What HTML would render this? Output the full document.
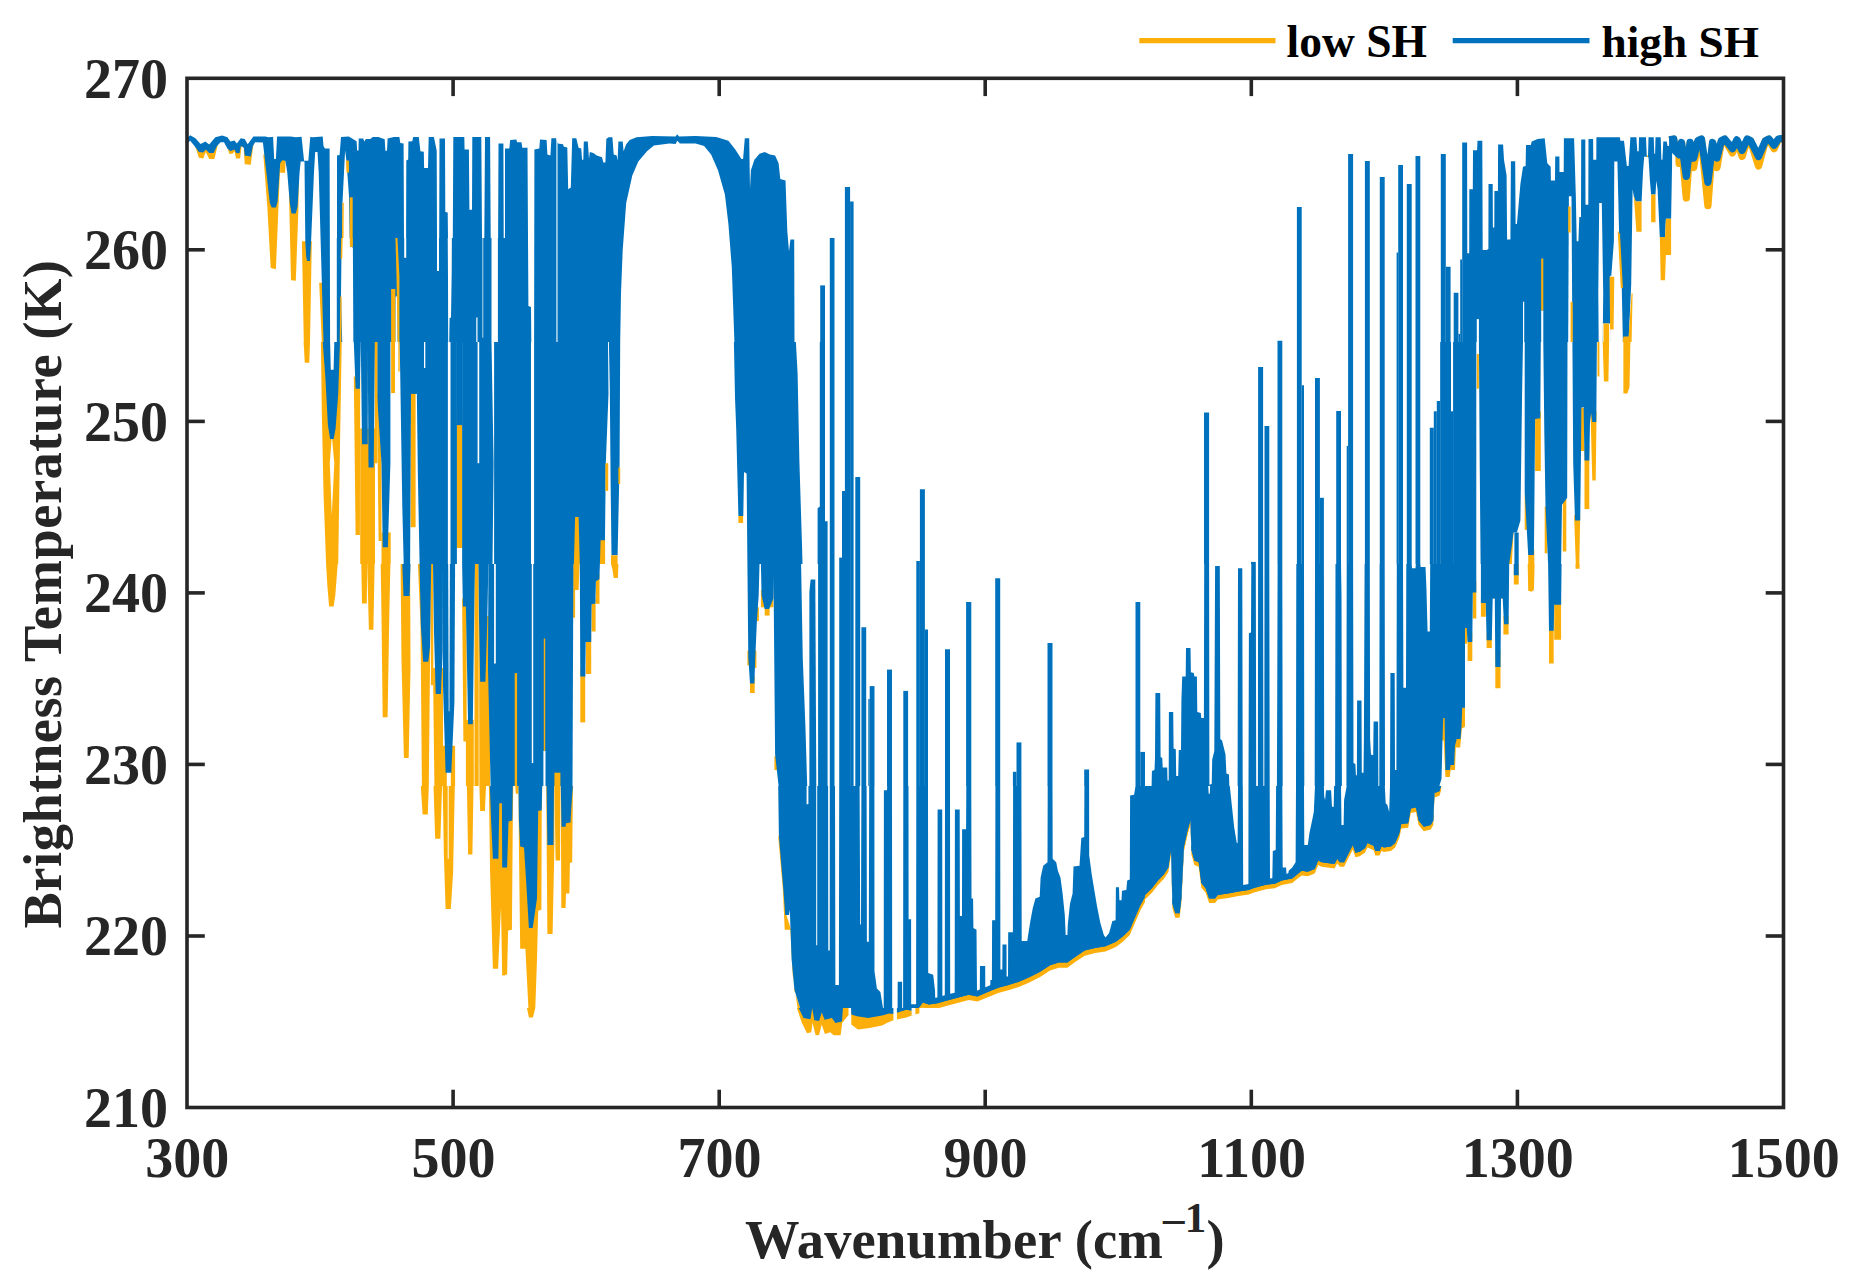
<!DOCTYPE html>
<html lang="en"><head><meta charset="utf-8"><title>Brightness Temperature vs Wavenumber</title>
<style>html,body{margin:0;padding:0;background:#fff}body{width:1850px;height:1282px;overflow:hidden}svg{display:block}text{font-family:"Liberation Serif",serif;font-weight:bold}</style></head><body>
<svg width="1850" height="1282" viewBox="0 0 1850 1282">
<rect width="1850" height="1282" fill="#fff"/>
<defs>
<clipPath id="c0"><rect x="185" y="120" width="150" height="222"/></clipPath>
<clipPath id="c1"><rect x="335" y="120" width="170" height="118"/></clipPath>
<clipPath id="c2"><rect x="185" y="342" width="320" height="222"/></clipPath>
<clipPath id="c3"><rect x="185" y="564" width="320" height="222"/></clipPath>
<clipPath id="c4"><rect x="185" y="786" width="320" height="222"/></clipPath>
<clipPath id="c5"><rect x="505" y="120" width="320" height="222"/></clipPath>
<clipPath id="c6"><rect x="505" y="342" width="320" height="222"/></clipPath>
<clipPath id="c7"><rect x="505" y="564" width="320" height="222"/></clipPath>
<clipPath id="c8"><rect x="505" y="786" width="320" height="222"/></clipPath>
<clipPath id="c9"><rect x="505" y="1008" width="40" height="22"/></clipPath>
<clipPath id="c10"><rect x="335" y="238" width="170" height="104"/></clipPath>
<clipPath id="c11"><rect x="825" y="786" width="320" height="222"/></clipPath>
<clipPath id="c12"><rect x="825" y="1008" width="320" height="100"/></clipPath>
<clipPath id="c13"><rect x="665" y="1008" width="160" height="100"/></clipPath>
<clipPath id="c14"><rect x="825" y="120" width="320" height="666"/></clipPath>
<clipPath id="c15"><rect x="825" y="342" width="320" height="444"/></clipPath>
<clipPath id="c16"><rect x="825" y="564" width="320" height="222"/></clipPath>
<clipPath id="c17"><rect x="1145" y="120" width="320" height="444"/></clipPath>
<clipPath id="c18"><rect x="1145" y="342" width="320" height="222"/></clipPath>
<clipPath id="c19"><rect x="1145" y="564" width="320" height="222"/></clipPath>
<clipPath id="c20"><rect x="1145" y="786" width="320" height="222"/></clipPath>
<clipPath id="c21"><rect x="1465" y="120" width="320" height="222"/></clipPath>
<clipPath id="c22"><rect x="1465" y="342" width="320" height="222"/></clipPath>
<clipPath id="c23"><rect x="1465" y="564" width="320" height="222"/></clipPath>
<clipPath id="plot"><rect x="187.0" y="78.3" width="1596.5" height="1029.2"/></clipPath>
</defs>
<g clip-path="url(#plot)">
<g clip-path="url(#c0)">
<polygon points="194.5,144.2 198.9,157.7 203.2,158.4 205.8,152 209.2,159 214.4,159 217.9,144.2" fill="#FCAF0A"/>
<polygon points="226.6,144.2 229.2,153.8 232.6,153.8 234.4,151.2 236.1,158.4 240.1,158.4 241.8,144.2" fill="#FCAF0A"/>
<polygon points="243.5,144.2 244.7,164.2 250.8,164.7 253.4,144.2" fill="#FCAF0A"/>
<polygon points="263.3,154.6 267.3,206.6 270.7,268.1 275.9,269.3 278.5,206.6 279.9,171.9 279.9,154.6" fill="#FCAF0A"/>
<polygon points="279.9,154.6 280.2,172.8 285.1,172.8 285.8,154.6" fill="#FCAF0A"/>
<polygon points="288.5,171.9 291,280.2 295.8,280.7 298.4,210 298.9,171.9" fill="#FCAF0A"/>
<polygon points="301.9,241.2 311.8,241.2 310,342 303.8,342" fill="#FCAF0A"/>
<polygon points="319.2,282.8 322.7,282.8 325.6,342 321.8,342" fill="#FCAF0A"/>
<polygon points="186.7,138.2 190.2,135.2 195.4,138.2 200.6,143.9 205.4,141.6 209.2,144.6 215.3,137.3 222.2,135.6 227.4,137.3 230.4,141.6 234.4,140.4 236.9,143.4 240.8,138.2 244.7,139 247.7,144.2 253.4,136.5 265.5,136.5 268.1,137.3 278.5,136.5 290.6,136.5 295.8,137.3 304.5,136.5 313.1,137.3 322.7,136.5 323.5,146 324.9,148.6 329.6,148.6 330.1,342 323.5,342 318.7,171.9 317.5,152 315.2,152 314,171.9 311.1,241.2 310,261.1 307.1,261.1 306.2,256.8 305.3,241.2 304.5,161.6 300.7,161.6 299.6,171.9 297.6,206.6 295.8,213.5 291.5,213.5 289.8,203.1 287.2,171.9 285.4,160.7 282.3,160.2 280.2,163.3 277.6,201.4 275.9,207.4 271.6,207.4 269.8,203.1 267.3,180.6 262.9,142.5 255.1,142.2 252.9,146 250.8,156.4 244.7,155.5 243.9,147.7 240.8,146 239.5,153.2 236.1,152.9 234.4,149.4 230.4,151.2 227.4,148.6 224,142.2 220.5,142.2 217,146 213.6,152.9 209.2,152.9 205.8,149.4 203.2,152.6 198.9,152 194.5,146 190.2,140.8 186.7,143.4" fill="#0072BD"/>
<polygon points="273,135.6 277.1,135.6 275.9,159 274.2,159" fill="#fff"/>
<polygon points="301.4,135.6 310.4,135.6 308.3,160.7 304.1,160.7" fill="#fff"/>
</g>
<g clip-path="url(#c1)">
<polygon points="341.4,155.4 353.4,155.4 353.4,238 341.4,238" fill="#FCAF0A"/>
<polygon points="337,238 337,155.4 339.6,155 341,137 348.8,136.6 356.6,141.2 357.1,150.4 358.5,150.4 358.7,138.4 363.1,138.4 364.5,141.6 365.8,138.9 370.4,138.9 372.7,137 378.3,137 384.7,139.3 385.4,150.8 387,150.8 387.6,138.4 393.9,137 399.4,137 400.3,143 403.6,143.5 404,238 406.1,238 406.3,160.5 408.2,159.6 408.4,141.4 412.3,141.2 413.2,137 418.8,137 420.4,151.3 423.8,151.8 424.1,167.9 428,167.9 428.7,137 433.9,137 436.7,150.4 437,238 439.2,238 439.5,138.4 445,138.4 445.3,212 447.7,212.5 448,238 452.8,238 453.3,137 464.3,137 464.6,149.5 468.9,149.5 469.4,209.7 472,209.7 472.3,137 481.3,137 482,238 484.3,238 485,137 490.1,137 490.7,238 498.1,238 498.5,143.5 503.4,143.5 503.7,238 503.7,238 337,238" fill="#0072BD"/>
<polygon points="345.1,150.4 342.5,202.8 342.2,238 349.7,238 349,196.4 346.5,161.4" fill="#fff"/>
<polygon points="346,160.5 348.8,160.5 349,172.5 346.5,172.5" fill="#FCAF0A"/>
<polygon points="349.7,197.3 352.7,197.3 352.7,238 349.7,238" fill="#FCAF0A"/>
<polygon points="342.4,202.8 343.8,202.8 343.5,238 342,238" fill="#FCAF0A"/>
</g>
<g clip-path="url(#c2)">
<polygon points="303.6,342 310,342 309.3,362.8 304.8,362.8" fill="#FCAF0A"/>
<polygon points="320.9,342 341.7,342 340,445.9 338.2,564 326.1,564 323.5,492.6 321.8,411.3" fill="#FCAF0A"/>
<polygon points="331.8,435.5 329.8,463.2 331.8,515.2 334.3,463.2" fill="#fff"/>
<polygon points="353.8,376.6 360.2,376.6 359.9,535.1 355.6,535.1" fill="#FCAF0A"/>
<polygon points="360.2,428.6 375,428.6 375,564 360.2,564" fill="#FCAF0A"/>
<polygon points="376.9,393.9 381.5,393.9 381.5,541.1 378.6,541.1" fill="#FCAF0A"/>
<polygon points="381.5,532.5 390.7,532.5 390.7,564 381.5,564" fill="#FCAF0A"/>
<polygon points="391.1,342 395,342 395,393.1 391.1,393.1" fill="#FCAF0A"/>
<polygon points="398.3,342 399.7,342 399.7,371.4 398.3,371.4" fill="#FCAF0A"/>
<polygon points="410.6,385.3 415.6,385.3 415.6,527.3 410.6,527.3" fill="#FCAF0A"/>
<polygon points="428.8,497.8 431.9,497.8 431.9,564 428.8,564" fill="#FCAF0A"/>
<polygon points="456.5,411.3 462.4,411.3 462.4,548.1 456.5,548.1" fill="#FCAF0A"/>
<polygon points="322.7,342 340,342 338.2,393.9 335.6,428.6 333.6,439 330.1,439 327.9,425.1 325.3,376.6" fill="#0072BD"/>
<polygon points="330.1,342 334.3,342 333.6,369.7 330.8,369.7" fill="#fff"/>
<polygon points="353.8,342 360.8,342 359.9,388.8 355.6,388.8" fill="#0072BD"/>
<polygon points="360.8,342 368,342 367.7,444.2 362,444.2" fill="#0072BD"/>
<polygon points="367.7,342 375,342 373.7,467.5 368.5,467.5" fill="#0072BD"/>
<polygon points="377.2,342 390.4,342 390.4,463.2 387.9,547.2 382.7,547.2 381.5,463.2 377.2,397.4" fill="#0072BD"/>
<polygon points="399.7,342 411,342 411,393.9 410.1,564 403.7,564 402.3,506.5" fill="#0072BD"/>
<polygon points="410.1,342 417,342 417,393.9 410.1,393.9" fill="#0072BD"/>
<polygon points="374.8,342 377.4,342 377.4,463.2 374.8,463.2" fill="#FCAF0A"/>
<polygon points="416.2,342 447.9,342 447.9,564 419.6,564 417.9,477.1" fill="#0072BD"/>
<polygon points="424,342 425.3,342 425.3,368 424,368" fill="#fff"/>
<polygon points="450.5,342 456.9,342 456.9,564 450.5,564" fill="#0072BD"/>
<polygon points="456.5,342 462.4,342 462.4,425.1 456.5,425.1" fill="#0072BD"/>
<polygon points="462.1,342 491.5,342 493.6,463.2 492.5,564 462.1,564" fill="#0072BD"/>
<polygon points="477.6,342 479.2,342 479.2,463.2 477.6,463.2" fill="#fff"/>
<polygon points="494.1,342 505,342 505,564 494.1,564" fill="#0072BD"/>
</g>
<g clip-path="url(#c3)">
<polygon points="326.1,564 337.7,564 335.3,595.2 333.6,606.4 329.1,606.4 327.3,584.8" fill="#FCAF0A"/>
<polygon points="361.3,564 367.2,564 366.8,603.5 362,603.5" fill="#FCAF0A"/>
<polygon points="367.2,564 374.6,564 373.4,629.8 368.9,629.8" fill="#FCAF0A"/>
<polygon points="380.7,564 390.4,564 389.3,615.9 387.6,717.2 382.7,717.2 381.5,615.9" fill="#FCAF0A"/>
<polygon points="400.6,564 410.1,564 410.5,667.9 408.7,757.9 403.9,757.9 401.5,661" fill="#FCAF0A"/>
<polygon points="417.9,564 430.5,564 430.5,615.9 428.8,786 421.9,786 420.5,624.6" fill="#FCAF0A"/>
<polygon points="433,667.9 443,667.9 443,745.8 446.8,745.8 446.8,786 434.4,786" fill="#FCAF0A"/>
<polygon points="450.8,745.8 455.1,745.8 455.1,786 450.8,786" fill="#FCAF0A"/>
<polygon points="462.1,598.6 466.6,598.6 466.6,741.5 463.4,741.5" fill="#FCAF0A"/>
<polygon points="465.9,719.8 473.8,719.8 473.8,786 465.9,786" fill="#FCAF0A"/>
<polygon points="479,615.9 489.8,615.9 490.1,786 479.4,786" fill="#FCAF0A"/>
<polygon points="474.5,564 478.7,564 478.7,786 474.5,786" fill="#FCAF0A"/>
<polygon points="430.9,564 433.3,564 433.3,685.2 430.9,685.2" fill="#FCAF0A"/>
<polygon points="402.3,564 410.5,564 409.6,596 403.5,596" fill="#0072BD"/>
<polygon points="419.6,564 431.2,564 430,647.1 428.3,661.8 423.1,661.8 420.8,624.6" fill="#0072BD"/>
<polygon points="433,564 443,564 442.7,650.6 440.9,693.9 435.7,693.9 434,633.3" fill="#0072BD"/>
<polygon points="442.7,564 455.1,564 454.4,702.5 451.3,772.7 445.6,772.7 443,685.2" fill="#0072BD"/>
<polygon points="448.2,564 449.9,564 449.4,711.2 448.7,711.2" fill="#fff"/>
<polygon points="462.1,564 475,564 474.5,590 472.8,724.2 468.1,724.2 465.9,606.4 462.9,606.4" fill="#0072BD"/>
<polygon points="478.5,564 488.4,564 487.2,624.6 485.4,681.7 480.2,681.7 479,615.9" fill="#0072BD"/>
<polygon points="488.4,564 505,564 505,786 490.6,786 488,667.9" fill="#0072BD"/>
<polygon points="494.1,564 495.8,564 495.8,663.6 494.1,663.6" fill="#fff"/>
</g>
<g clip-path="url(#c4)">
<polygon points="420.8,786 428.8,786 427.8,814.6 422.6,814.6" fill="#FCAF0A"/>
<polygon points="433.5,786 442.1,786 440.4,838.8 435.2,838.8" fill="#FCAF0A"/>
<polygon points="442.7,786 454.8,786 453.1,872.6 450.8,908.9 445.6,908.9 443.9,855.3" fill="#FCAF0A"/>
<polygon points="447.7,786 448.7,786 448.7,858.7 447.7,858.7" fill="#fff"/>
<polygon points="466.9,786 473.5,786 472.4,854.4 468.1,854.4" fill="#FCAF0A"/>
<polygon points="479.4,786 486,786 484.9,811.1 480.2,811.1" fill="#FCAF0A"/>
<polygon points="488.9,786 505,786 505,975.6 502.2,975.6 501,907.2 498.1,968.7 492.9,968.7 490.1,872.6" fill="#FCAF0A"/>
<polygon points="489.8,786 505,786 505,867.4 502.2,867.4 501.9,803.3 499.3,803.3 498.4,858.7 492.9,858.7 491.1,820.6" fill="#0072BD"/>
</g>
<g clip-path="url(#c5)">
<polygon points="505,148.6 509.3,148.6 510.2,139.9 516.3,139.4 517.1,142.2 521.5,142.2 522.3,147.7 527.5,147.7 528.4,306.1 531,307 531.3,342 534.1,342 534.4,149.4 539.3,148.6 540,139.4 546.6,139.9 547.4,154.6 550.4,155.5 551.4,138.2 556.1,138.2 557.8,143.4 563,144.2 563.9,146.8 567.3,147.4 568.2,189.3 570.8,187.5 572.2,138.2 576.3,138.2 578.6,147.7 581.2,148.6 582.1,159.8 583.3,159.8 583.8,141.6 587.8,141.6 589,159 589.8,152 593.3,152.9 596.8,155.5 602,157.2 603.4,162.4 605.4,162.4 606.3,139 608.5,137.3 612.4,137.3 613.7,154.6 616.7,155.5 617.6,160.7 618.4,141.6 622.7,141.6 623.6,151.2 626.2,144.2 629.7,139.9 636.6,137.3 652.2,135.9 675.6,136.5 677.3,134.2 679,136.5 695.5,135.9 716.3,137 728.4,140.8 735.3,149.4 741.4,159 743.1,159 744.8,138.2 749.2,138.2 750,188.4 750.9,170.2 754.4,159.8 759.5,153.8 764.7,152 769.9,154.6 775.1,155.5 778.6,163.3 780.3,178.9 785.5,180.6 787.3,230.8 789,251.6 790.4,239.5 794.2,239.5 794.5,342 794.5,342 505,342" fill="#0072BD"/>
<polygon points="620.2,342 621,293.2 622.7,249.9 626.2,203.1 632.3,175.4 638.3,161.6 647,151.2 653.9,145.6 669.5,143.4 675.6,143.9 677.3,140.8 679.9,143.4 695.5,143.4 704.1,146 711.1,154.6 718,170.2 724.9,194.5 728.4,223.9 731.8,267.2 734.4,342" fill="#fff"/>
<polygon points="820.2,285.4 825,285.4 825,342 820.2,342" fill="#0072BD"/>
<polygon points="556.4,139 557.5,139 557.5,342 556.4,342" fill="#fff"/>
</g>
<g clip-path="url(#c6)">
<polygon points="505,342 531,342 531,564 505,564" fill="#0072BD"/>
<polygon points="534.1,342 608,342 608.5,393.9 605.8,463.2 604.7,564 534.1,564" fill="#0072BD"/>
<polygon points="609.8,388.8 608.9,342 620.2,342 619.6,463.2 617.6,555.3 611.5,555.3 610.6,480.5" fill="#0072BD"/>
<polygon points="611,555.3 617.6,555.3 617.6,564 611,564" fill="#FCAF0A"/>
<polygon points="605.4,463.2 608.2,463.2 608.2,490.9 605.4,490.9" fill="#FCAF0A"/>
<polygon points="575.1,516.9 578.6,516.9 579.8,564 573.9,564" fill="#FCAF0A"/>
<polygon points="600.6,540.3 605.1,540.3 605.1,564 599.9,564" fill="#FCAF0A"/>
<polygon points="618.4,467.5 620.2,467.5 620.2,484 618.4,484" fill="#FCAF0A"/>
<polygon points="733.9,342 795.9,342 797.6,373.2 799.4,461.5 802,544.6 802.5,564 747.4,564 746.6,473.6 744,471.9 743.3,516 738.4,516 736.2,428.6 735,397.4" fill="#0072BD"/>
<polygon points="738.4,516 743.1,516 743.1,523 738.4,523" fill="#FCAF0A"/>
<polygon points="819.8,342 825,342 825,564 817.6,564 817.6,508.2 819.8,506.5" fill="#0072BD"/>
</g>
<g clip-path="url(#c7)">
<polygon points="573.1,564 579.5,564 578.6,590 573.1,590" fill="#FCAF0A"/>
<polygon points="573.1,590 575.1,590 575.1,617.7 573.1,617.7" fill="#FCAF0A"/>
<polygon points="505,564 573.4,564 572.5,786 505,786" fill="#0072BD"/>
<polygon points="531.8,564 533.2,564 533.2,763.1 531.8,763.1" fill="#fff"/>
<polygon points="543.4,751 545.5,751 545.5,786 543.4,786" fill="#fff"/>
<polygon points="514.7,673.1 517.1,673.1 517.1,786 514.7,786" fill="#FCAF0A"/>
<polygon points="543.8,638.5 545.2,638.5 545.2,751 543.8,751" fill="#FCAF0A"/>
<polygon points="554.4,772.7 560.4,772.7 560.4,786 554.4,786" fill="#FCAF0A"/>
<polygon points="595.9,574.4 599.5,574.4 599.5,603.8 595.9,603.8" fill="#FCAF0A"/>
<polygon points="591.6,598.6 595.6,598.6 595.6,631.5 591.6,631.5" fill="#FCAF0A"/>
<polygon points="586,633.3 591.2,633.3 591.2,674 586,674" fill="#FCAF0A"/>
<polygon points="580.3,667.9 585.2,667.9 585.2,722.4 580.3,722.4" fill="#FCAF0A"/>
<polygon points="579.8,564 599.9,564 599.4,579.2 595.9,581.3 595.4,603.5 591.6,604.2 591.2,641.9 585.7,641.9 585.3,676.6 580.3,676.6" fill="#0072BD"/>
<polygon points="611,564 618.4,564 617.9,577.9 613.7,577.9 612.4,569.2" fill="#FCAF0A"/>
<polygon points="750,676.6 754.7,676.6 754.7,693 750,693" fill="#FCAF0A"/>
<polygon points="747.4,650.6 749.5,650.6 749.5,665.3 747.4,665.3" fill="#FCAF0A"/>
<polygon points="754.7,650.6 756.4,650.6 756.4,667.9 754.7,667.9" fill="#FCAF0A"/>
<polygon points="756.9,607.3 758.9,607.3 758.9,621.1 756.9,621.1" fill="#FCAF0A"/>
<polygon points="747.4,564 759.5,564 758.7,595.2 756.9,621.1 755.2,659.2 754.4,683.5 750,683.5 748.3,657.5" fill="#0072BD"/>
<polygon points="760.9,590 773.4,590 773.4,607.3 760.9,607.3" fill="#FCAF0A"/>
<polygon points="764.7,598.6 769.6,598.6 769.6,615.6 764.7,615.6" fill="#FCAF0A"/>
<polygon points="760.9,564 774.3,564 773.4,598.6 769.1,609 764.7,609 761.6,595.2" fill="#0072BD"/>
<polygon points="774.4,756.2 777.9,756.2 777.9,770.1 774.4,770.1" fill="#FCAF0A"/>
<polygon points="773.4,564 801.1,564 802.8,659.2 805.4,725.9 807.2,786 778.6,786 775.1,754.5 773.7,598.6" fill="#0072BD"/>
<polygon points="810.6,579.6 815.3,579.6 816.3,786 809.4,786 809.4,591.7" fill="#0072BD"/>
<polygon points="818.1,564 825,564 825,786 818.1,786" fill="#0072BD"/>
</g>
<g clip-path="url(#c8)">
<polygon points="505,786 513.3,786 512.8,820.6 511.9,929.7 508.1,930.6 507.1,974.7 505,974.7" fill="#FCAF0A"/>
<polygon points="515.4,786 518.5,786 518,793.8 515.7,793.8" fill="#FCAF0A"/>
<polygon points="518.5,786 542.2,786 541.7,810.2 541.4,909.8 538.2,910.7 537,959.2 535.3,1008 528.4,1008 525.4,948.8 520.2,948.8 518.9,844.9" fill="#FCAF0A"/>
<polygon points="546.2,786 554.4,786 554.4,844.9 552.6,934.1 547.4,934.1" fill="#FCAF0A"/>
<polygon points="554.4,786 560.4,786 560.1,860.5 555.6,860.5" fill="#FCAF0A"/>
<polygon points="560.8,786 572.9,786 572.2,862.2 569.9,863.1 569.4,893.4 566,893.4 565.6,908.1 561.3,908.1" fill="#FCAF0A"/>
<polygon points="505,786 512.8,786 512.3,820.6 508.5,821.5 507.1,867.4 505,867.4" fill="#0072BD"/>
<polygon points="518.5,786 542.2,786 541.7,810.2 538.2,811.1 537,898.6 532.7,928 528.9,928 525.8,876 524,847.5 520.2,846.6 518.9,820.6" fill="#0072BD"/>
<polygon points="546.6,786 554,786 553.5,844.9 547.4,844.9" fill="#0072BD"/>
<polygon points="560.8,786 572.9,786 571.7,801.6 570.5,822.4 566,823.2 565.6,826.7 561.5,826.7" fill="#0072BD"/>
<polygon points="778.2,836.2 782.1,836.2 786.4,915 791.1,929.7 794.2,990.3 800.2,1008 797.6,1008 792.8,976.5 790.4,929.7 784.7,929.7 782.9,889.9" fill="#FCAF0A"/>
<polygon points="778.2,786 825,786 825,1008 800.2,1008 794.5,990.3 791.6,959.2 789.8,909.8 789,915 785.2,915 783.4,889.9 778.9,836.2" fill="#0072BD"/>
<polygon points="806.6,786 808.4,786 808.4,804.2 806.6,804.2" fill="#fff"/>
<polygon points="816.2,786 817.2,786 817.2,945.3 816.2,945.3" fill="#fff"/>
</g>
<g clip-path="url(#c9)">
<polygon points="526,1005.5 536.9,1005.5 535.5,1007.2 532.9,1017.6 528.9,1017.6 526.8,1007.2" fill="#FCAF0A"/>
</g>
<g clip-path="url(#c10)">
<polygon points="336.8,232 505,232 505,350 336.8,350" fill="#0072BD"/>
<polygon points="341.9,232 349.7,232 350.2,246.7 352.9,247.6 353.4,350 342.4,350 341,296.4 341.4,258.7" fill="#fff"/>
<polygon points="349.7,232 352.9,232 352.9,247.2 349.9,246.7" fill="#FCAF0A"/>
<polygon points="341.3,232 342.8,232 342.2,258.7 340.7,258.7" fill="#FCAF0A"/>
<polygon points="340.3,296.4 341.6,296.4 341.3,350 339.6,350" fill="#FCAF0A"/>
<polygon points="391.1,289.1 395.3,289.1 395.7,350 391.1,350" fill="#FCAF0A"/>
<polygon points="395.6,296.4 397.6,296.4 397.6,350 395.6,350" fill="#fff"/>
<polygon points="395.3,232 397.1,232 399.4,276.2 399.4,350 397.8,350 396.5,276.2" fill="#FCAF0A"/>
<polygon points="404.2,232 406.2,232 406.2,257.8 404.2,257.8" fill="#fff"/>
<polygon points="437,232 439,232 439,271.1 437,271.1" fill="#fff"/>
<polygon points="447.7,232 451.9,232 451.7,271.6 451,317.6 449.6,318.1 449.1,350 448.2,350 448,278" fill="#fff"/>
<polygon points="482.5,232 483.2,232 483.2,337.8 482.5,337.8" fill="#fff"/>
<polygon points="491.5,232 497.9,232 497.9,350 491.5,350" fill="#fff"/>
<polygon points="476.3,317.6 477.5,317.6 477.5,350 476.3,350" fill="#fff"/>
</g>
<g clip-path="url(#c11)">
<polygon points="825,1023.2 918.5,1023.2 918.7,1002.8 922.8,997.3 928.9,999.3 937.6,998.1 946.2,995.5 956.6,992.9 968.7,989.5 977.4,991.2 987.8,986.9 998.2,982.5 1008.5,979.9 1018.9,976.5 1029.3,972.1 1039.7,967 1050.1,960 1058.8,957.4 1067.4,957.4 1074.4,952.2 1084.7,945.3 1095.1,942.7 1105.5,941 1115.9,936.6 1122.8,931.5 1129.8,924.5 1135,912.4 1140.2,900.3 1145,891.6 1145,902 1140.2,910.7 1135,922.8 1129.8,934.9 1122.8,941.8 1115.9,947 1105.5,951.4 1095.1,953.1 1084.7,955.7 1074.4,962.6 1067.4,967.8 1058.8,967.8 1050.1,970.4 1039.7,977.3 1029.3,982.5 1018.9,986.9 1008.5,990.3 998.2,992.9 987.8,997.3 977.4,1001.6 968.7,999.9 956.6,1003.3 946.2,1005.9 937.6,1008.5 928.9,1009.7 922.8,1007.6 918.7,1013.2 918.5,1033.6 825,1033.6" fill="#FCAF0A"/>
<polygon points="847.2,976.5 850.3,976.5 850.3,1008 847.2,1008" fill="#FCAF0A"/>
<polygon points="843.2,996.4 848.4,996.4 848.4,1008 843.2,1008" fill="#FCAF0A"/>
<polygon points="825,786 828.1,786 828.3,950.5 829.7,950.5 829.8,786 835,786 835.4,985.1 838.9,985.1 839.2,786 859.6,786 860.2,924.5 861,924.5 861.4,786 866.6,786 866.9,941.8 868.8,941.8 869.2,786 874.4,786 874.5,971.3 876.9,988.6 880.4,992.1 883,1008 883.7,1008 883.9,790.3 887,790.3 887.2,786 892,786 892.2,1008 897.6,1008 897.7,981.7 902.1,981.7 902.2,1008 903.1,1008 903.3,786 908.5,786 908.6,919.3 911.1,919.3 911.2,1004.2 916.1,1004.2 916.3,786 928,786 928.2,973 933.2,974.7 935,990.3 935.3,1001.6 937.4,1001.6 937.6,809.4 942.2,809.4 942.4,1000.7 944.8,1000.7 945,786 950,786 950.2,995.5 954.7,995.5 954.9,809.4 959.7,809.4 959.9,915.9 962,915.9 962.1,829.3 966.1,829.3 966.3,786 971.3,786 971.5,898.6 973.1,898.6 973.4,928 976.5,929.7 977,992.1 979.8,992.1 980,966.1 985.2,966.1 985.3,989.5 990.2,988.6 990.4,979.9 991.9,979.9 992.1,920.2 995.2,920.2 995.4,786 1000.2,786 1000.4,969.5 1002.3,969.5 1002.5,944.4 1006.5,944.4 1006.6,976.5 1008,976.5 1008.2,932.3 1012.9,932.3 1013.1,786 1021.4,786 1021.7,941 1027.3,941 1027.6,938.4 1030.2,921.9 1032.8,908.1 1035.4,898.6 1039.7,896.8 1040.6,877.8 1043.2,865.7 1047.5,862.2 1047.7,786 1052.5,786 1052.7,858.7 1056.2,862.2 1057.9,870.8 1060.5,877.8 1062.6,893.4 1064.8,915 1065.7,934.9 1067.4,934.9 1067.8,924.5 1070,903.7 1072.6,893.4 1073.5,866.5 1079.5,865.7 1081.3,837.9 1084.2,837.1 1084.4,786 1089.1,786 1089.2,855.3 1091.7,874.3 1094.3,889.9 1096.9,905.5 1100.3,922.8 1103.8,934.9 1105.5,937.5 1109,933.2 1112.4,921.1 1115.6,920.2 1115.9,887.3 1119,887.3 1119.4,900.3 1121.5,900.3 1122,890.8 1126.3,889.9 1127.2,880.4 1129.8,879.5 1130.1,795.5 1134.1,794.7 1135.5,786 1145,786 1145,896.8 1140.2,905.5 1135,917.6 1129.8,929.7 1122.8,936.6 1115.9,941.8 1105.5,946.2 1095.1,947.9 1084.7,950.5 1074.4,957.4 1067.4,962.6 1058.8,962.6 1050.1,965.2 1039.7,972.1 1029.3,977.3 1018.9,981.7 1008.5,985.1 998.2,987.7 987.8,992.1 977.4,996.4 968.7,994.7 956.6,998.1 946.2,1000.7 937.6,1003.3 928.9,1004.5 922.8,1002.5 918.7,1008 918.5,1028.4 825,1028.4" fill="#0072BD"/>
<polygon points="825,1022.5 918.5,1022.5 918.7,1002.1 922.8,996.6 928.9,998.6 937.6,997.4 946.2,994.8 956.6,992.2 968.7,988.8 977.4,990.5 987.8,986.2 998.2,981.8 1008.5,979.2 1018.9,975.8 1029.3,971.5 1039.7,966.3 1050.1,959.3 1058.8,956.7 1067.4,956.7 1074.4,951.5 1084.7,944.6 1095.1,942 1105.5,940.3 1115.9,936 1122.8,930.8 1129.8,923.8 1135,911.7 1140.2,899.6 1145,890.9 1145,896.8 1140.2,905.5 1135,917.6 1129.8,929.7 1122.8,936.6 1115.9,941.8 1105.5,946.2 1095.1,947.9 1084.7,950.5 1074.4,957.4 1067.4,962.6 1058.8,962.6 1050.1,965.2 1039.7,972.1 1029.3,977.3 1018.9,981.7 1008.5,985.1 998.2,987.7 987.8,992.1 977.4,996.4 968.7,994.7 956.6,998.1 946.2,1000.7 937.6,1003.3 928.9,1004.5 922.8,1002.5 918.7,1008 918.5,1028.4 825,1028.4" fill="#0072BD"/>
</g>
<g clip-path="url(#c12)">
<polygon points="825,1007.2 848.5,1007.2 848.5,1015 842.3,1022.8 840.6,1035.3 833.7,1035.3 830.2,1032.3 825,1034.1" fill="#FCAF0A"/>
<polygon points="851.3,1007.2 919.4,1007.2 919.4,1013.3 911.6,1015.5 906.4,1017.6 897.7,1019.3 893.4,1020.2 887.3,1022.8 882.1,1025.4 868.3,1028.3 857.9,1029.4 851.3,1024.5" fill="#FCAF0A"/>
<polygon points="825,1007.2 843,1007.2 842,1021.4 835.4,1023.1 831.9,1017.9 825,1019.7" fill="#0072BD"/>
<polygon points="851,1007.2 919.4,1007.2 919.4,1005.5 911.6,1010.7 906.4,1009.8 897.7,1012.4 893.4,1014.1 889.1,1013.6 882.1,1015.4 868.3,1017.9 857,1016.2 851.3,1014.5" fill="#0072BD"/>
<polygon points="893.4,1007.2 896.9,1007.2 896.9,1020.2 893.4,1020.2" fill="#fff"/>
<polygon points="911.6,1007.2 915.4,1007.2 915.4,1015 911.6,1015" fill="#fff"/>
</g>
<g clip-path="url(#c13)">
<polygon points="796.6,1007.2 801.8,1022.8 807,1033.2 811.3,1032.3 812.5,1022.8 815.6,1035.3 819.1,1034.9 821.7,1024.5 825.2,1034.9 829.5,1034.9 832.1,1026.3 835.6,1035.8 841.6,1035.3 843.4,1022.8 843.4,1007.2" fill="#FCAF0A"/>
<polygon points="798.3,1007.2 803.5,1017.9 810.5,1019.3 812.2,1008.1 814.3,1020.2 819.1,1021.1 821.7,1012.4 825.2,1021.1 829.5,1021.1 832.1,1015.9 835.6,1021.9 841.6,1021.1 843.4,1007.2" fill="#0072BD"/>
</g>
<g clip-path="url(#c14)">
<polygon points="829.8,238.1 834.5,238.1 834.5,786 829.8,786" fill="#0072BD"/>
<polygon points="844.9,187 850.1,187 850.1,786 844.9,786" fill="#0072BD"/>
<polygon points="850.1,201.4 853.6,201.4 853.6,786 850.1,786" fill="#0072BD"/>
</g>
<g clip-path="url(#c15)">
<polygon points="825,521.2 827.6,521.2 827.6,786 825,786" fill="#0072BD"/>
<polygon points="842,490.9 845.4,490.9 845.4,786 842,786" fill="#0072BD"/>
<polygon points="839.2,557.6 842,557.6 842,786 839.2,786" fill="#0072BD"/>
<polygon points="855.3,477.1 860.2,477.1 860.2,786 855.3,786" fill="#0072BD"/>
<polygon points="919.9,489.2 924.9,489.2 924.9,786 919.9,786" fill="#0072BD"/>
<polygon points="916.3,561 919.9,561 919.9,786 916.3,786" fill="#0072BD"/>
</g>
<g clip-path="url(#c16)">
<polygon points="861.4,627.2 866.2,627.2 866.2,786 861.4,786" fill="#0072BD"/>
<polygon points="869.7,686.1 874.5,686.1 874.5,786 869.7,786" fill="#0072BD"/>
<polygon points="868.3,699.1 869.7,699.1 869.7,786 868.3,786" fill="#0072BD"/>
<polygon points="887,669.6 892,669.6 892,786 887,786" fill="#0072BD"/>
<polygon points="903.3,690.9 908.1,690.9 908.1,786 903.3,786" fill="#0072BD"/>
<polygon points="924.9,629.5 928,629.5 928,786 924.9,786" fill="#0072BD"/>
<polygon points="945,649.2 950,649.2 950,786 945,786" fill="#0072BD"/>
<polygon points="966.1,602.1 971.3,602.1 971.3,786 966.1,786" fill="#0072BD"/>
<polygon points="995.2,578.2 1000.2,578.2 1000.2,786 995.2,786" fill="#0072BD"/>
<polygon points="1016.5,742.4 1021.4,742.4 1021.4,786 1016.5,786" fill="#0072BD"/>
<polygon points="1012.9,771.8 1016.5,771.8 1016.5,786 1012.9,786" fill="#0072BD"/>
<polygon points="1047.5,643 1052.5,643 1052.5,786 1047.5,786" fill="#0072BD"/>
<polygon points="1084.2,769.5 1089.1,769.5 1089.1,786 1084.2,786" fill="#0072BD"/>
<polygon points="1135.5,602.1 1140.3,602.1 1140.3,786 1135.5,786" fill="#0072BD"/>
<polygon points="1140.3,751.9 1145,751.9 1145,786 1140.3,786" fill="#0072BD"/>
</g>
<g clip-path="url(#c17)">
<polygon points="1296.9,207.1 1301.7,207.1 1301.7,564 1296.9,564" fill="#0072BD"/>
<polygon points="1277.5,340.8 1282.3,340.8 1282.3,564 1277.5,564" fill="#0072BD"/>
<polygon points="1348.1,154.1 1353.1,154.1 1353.1,564 1348.1,564" fill="#0072BD"/>
<polygon points="1364.9,161 1369.8,161 1369.8,564 1364.9,564" fill="#0072BD"/>
<polygon points="1379.8,177.1 1384.7,177.1 1384.7,564 1379.8,564" fill="#0072BD"/>
<polygon points="1398.2,165 1403,165 1403,564 1398.2,564" fill="#0072BD"/>
<polygon points="1396.6,252.5 1398.2,252.5 1398.2,564 1396.6,564" fill="#0072BD"/>
<polygon points="1406.8,184.1 1411.7,184.1 1411.7,564 1406.8,564" fill="#0072BD"/>
<polygon points="1415.5,156 1420.3,156 1420.3,564 1415.5,564" fill="#0072BD"/>
<polygon points="1440.8,153.9 1445.8,153.9 1445.8,564 1440.8,564" fill="#0072BD"/>
<polygon points="1445.8,266.8 1450.6,266.8 1450.6,564 1445.8,564" fill="#0072BD"/>
<polygon points="1453.7,292.8 1458.4,292.8 1458.4,564 1453.7,564" fill="#0072BD"/>
<polygon points="1460.2,259.4 1462.2,259.4 1462.2,564 1460.2,564" fill="#0072BD"/>
<polygon points="1462.2,142.5 1465,142.5 1465,564 1462.2,564" fill="#0072BD"/>
<polygon points="1458.4,333.9 1460.2,333.9 1460.2,564 1458.4,564" fill="#0072BD"/>
</g>
<g clip-path="url(#c18)">
<polygon points="1204,412.6 1209.1,412.6 1209.1,564 1204,564" fill="#0072BD"/>
<polygon points="1258.1,367.1 1263.1,367.1 1263.1,564 1258.1,564" fill="#0072BD"/>
<polygon points="1264.5,426 1269.3,426 1269.3,564 1264.5,564" fill="#0072BD"/>
<polygon points="1251,561.9 1255.8,561.9 1255.8,564 1251,564" fill="#0072BD"/>
<polygon points="1301.7,385.3 1304,385.3 1304,564 1301.7,564" fill="#0072BD"/>
<polygon points="1315,378 1319.9,378 1319.9,564 1315,564" fill="#0072BD"/>
<polygon points="1319.9,497.8 1323.9,497.8 1323.9,564 1319.9,564" fill="#0072BD"/>
<polygon points="1336.2,410.9 1341,410.9 1341,564 1336.2,564" fill="#0072BD"/>
<polygon points="1346.7,445.9 1348.1,445.9 1348.1,564 1346.7,564" fill="#0072BD"/>
<polygon points="1429.8,427.7 1433.8,427.7 1433.8,564 1429.8,564" fill="#0072BD"/>
<polygon points="1433.8,411.3 1436.8,411.3 1436.8,564 1433.8,564" fill="#0072BD"/>
<polygon points="1436.8,400.9 1440.2,400.9 1440.2,564 1436.8,564" fill="#0072BD"/>
<polygon points="1440.2,342 1451,342 1451,564 1440.2,564" fill="#0072BD"/>
<polygon points="1453.1,342 1465,342 1465,564 1453.1,564" fill="#0072BD"/>
<polygon points="1451,411.3 1453.1,411.3 1453.1,564 1451,564" fill="#0072BD"/>
</g>
<g clip-path="url(#c19)">
<polygon points="1438.5,789.1 1442,740.6 1443.7,740.6 1445.4,777 1449.8,777 1450.6,770.1 1455,770.1 1455.8,747.5 1460.2,747.5 1461.9,728.5 1465,726.8 1465,702.5 1437.6,702.5" fill="#FCAF0A"/>
<polygon points="1145,786 1151.6,786 1151.9,770.9 1154.5,770.1 1155,757.1 1155.4,693 1160.2,693 1160.6,757.1 1162.3,757.9 1162.7,767.5 1167.2,767.5 1167.5,780.5 1168.7,780.5 1168.9,712.1 1173.2,712.1 1173.6,748.4 1175.8,749.3 1176.2,776.1 1178.2,776.1 1178.8,750.1 1181,750.1 1181.4,700.8 1182.2,676.6 1185.7,676.6 1186,648 1190.5,648 1190.9,672.2 1193.8,673.1 1194.4,676.6 1196.9,676.6 1197.3,712.1 1200.8,712.9 1201.3,718.1 1203.9,718.1 1204.2,564 1209.1,564 1209.4,784.8 1211.7,783.9 1212.2,759.7 1214.3,751 1215.1,566.1 1219.8,566.1 1220.3,738.9 1222.1,740.6 1223.8,747.5 1225.5,754.5 1226.4,773.5 1229,774.4 1229.3,786 1237.6,786 1238,568.3 1242.3,568.3 1242.7,786 1248.5,786 1248.9,633.3 1251,632.4 1251.3,564 1255.8,564 1256.2,786 1257.9,786 1258.1,564 1263.1,564 1263.4,786 1264.3,786 1264.5,564 1269.3,564 1269.7,786 1276.9,786 1277.3,673.1 1277.6,564 1282.3,564 1282.7,786 1296,786 1296.3,564 1304,564 1304.3,786 1314.7,786 1315,564 1323.9,564 1324.2,786 1335.1,786 1335.5,564 1341,564 1341.5,595.2 1341.9,786 1346.4,786 1346.7,564 1353.1,564 1353.5,763.1 1355.4,764 1355.9,775.3 1356.9,775.3 1357.1,700.5 1361.5,700.5 1361.8,772.7 1363.5,772.7 1363.9,740.6 1364.6,564 1369.8,564 1370.1,738.9 1371,754.5 1373.2,755.3 1373.6,721.6 1378.1,721.6 1378.4,786 1379.3,786 1379.6,564 1384.7,564 1385,786 1390,786 1390.4,673.1 1394.7,673.1 1395,770.1 1396.4,770.1 1396.8,564 1403,564 1403.4,687.8 1406,687.8 1406.3,564 1411.7,564 1412,568.3 1415.5,568.3 1415.8,564 1420.3,564 1420.7,567.1 1425.5,567.1 1426.4,587.4 1427.6,631.5 1429.8,631.5 1430.2,564 1465,564 1465,707.7 1462.2,707.7 1461.5,726.8 1460.5,738.9 1456.7,738.9 1455,745.8 1454.1,764.9 1450.6,764.9 1449.8,770.1 1445.4,770.1 1444.6,718.1 1443.2,718.1 1442.5,740.6 1441.5,778.7 1439.4,786 1438.5,806.4 1145,806.4" fill="#0072BD"/>
</g>
<g clip-path="url(#c20)">
<polygon points="1145,889.9 1151.9,883 1158,875.2 1164,869.1 1168.4,862.2 1171,844.9 1172.4,898.6 1175.3,908.1 1179.6,908.1 1181.4,893.4 1184,841.4 1187.4,825.8 1190.4,815.4 1191.4,844.9 1194.4,855.3 1198.7,857 1201.3,877.8 1205.6,883 1209.1,893.4 1215.1,893.4 1217.7,889.9 1228.1,888.2 1238.5,886.4 1248.9,884.7 1253.2,883 1259.3,881.2 1266.2,879.5 1274.9,878.6 1281.8,875.2 1292.2,873.4 1297.4,869.1 1301.7,865.7 1307.8,866.5 1314.7,863.9 1318.2,855.3 1321.6,857 1334.6,858.7 1337.2,853.5 1339.8,857 1344.1,857 1348.5,848.3 1352.8,839.7 1355.4,847.5 1359.7,846.6 1364.9,843.1 1367.5,837.9 1373.6,840.5 1375.3,845.7 1379.6,845.7 1381.4,841.4 1384,842.3 1390.9,841.4 1395.2,837.9 1399.5,827.6 1401.3,818.9 1408.2,818 1410.8,803.3 1416,802.5 1418.6,815.4 1423.8,821.5 1430.7,819.8 1433.3,815.4 1434.5,787.7 1439.4,786 1441.1,780.8 1441.5,763.5 1465,763.5 1465,773.2 1441.5,773.2 1441.1,790.5 1439.4,795.7 1434.5,797.4 1433.3,825.1 1430.7,829.5 1423.8,831.2 1418.6,825.1 1416,812.1 1410.8,813 1408.2,827.7 1401.3,828.6 1399.5,837.3 1395.2,847.6 1390.9,851.1 1384,852 1381.4,851.1 1379.6,855.4 1375.3,855.4 1373.6,850.2 1367.5,847.6 1364.9,852.8 1359.7,856.3 1355.4,857.2 1352.8,849.4 1348.5,858 1344.1,866.7 1339.8,866.7 1337.2,863.2 1334.6,868.4 1321.6,866.7 1318.2,865 1314.7,873.6 1307.8,876.2 1301.7,875.4 1297.4,878.8 1292.2,883.1 1281.8,884.9 1274.9,888.3 1266.2,889.2 1259.3,890.9 1253.2,892.7 1248.9,894.4 1238.5,896.1 1228.1,897.9 1217.7,899.6 1215.1,903.1 1209.1,903.1 1205.6,892.7 1201.3,887.5 1198.7,866.7 1194.4,865 1191.4,854.6 1190.4,825.1 1187.4,835.5 1184,851.1 1181.4,903.1 1179.6,917.8 1175.3,917.8 1172.4,908.3 1171,854.6 1168.4,871.9 1164,878.8 1158,884.9 1151.9,892.7 1145,899.6" fill="#FCAF0A"/>
<polygon points="1145,786 1208.2,786 1208.7,793.8 1209.8,793.8 1210.1,786 1229.8,786 1231.6,803.3 1234.2,827.6 1236.8,843.1 1237.6,843.1 1238,786 1242.8,786 1243.2,887.3 1248.4,887.3 1248.5,786 1269.7,786 1270,879.5 1272.3,879.5 1272.8,850.9 1275.7,850.1 1276.1,786 1282.3,786 1282.7,867.4 1286.1,867.4 1286.6,876 1287.9,876 1288.7,870.8 1292.2,867.4 1295.6,862.2 1296,786 1304,786 1304.3,844.9 1307.8,844.9 1309.5,832.8 1312.1,820.6 1313.8,812 1315,786 1323.9,786 1324.2,796.4 1325.1,799.9 1326,790.3 1331.1,790.3 1332,806.8 1333.7,806.8 1334.1,786 1341,786 1341.5,825 1343.6,825 1344.1,799.9 1346.7,786 1384.8,786 1385.7,803.3 1387.4,805 1389.2,812 1390,786 1465,786 1465,768.7 1441.5,768.7 1441.1,786 1439.4,791.2 1434.5,792.9 1433.3,820.6 1430.7,825 1423.8,826.7 1418.6,820.6 1416,807.6 1410.8,808.5 1408.2,823.2 1401.3,824.1 1399.5,832.8 1395.2,843.1 1390.9,846.6 1384,847.5 1381.4,846.6 1379.6,850.9 1375.3,850.9 1373.6,845.7 1367.5,843.1 1364.9,848.3 1359.7,851.8 1355.4,852.7 1352.8,844.9 1348.5,853.5 1344.1,862.2 1339.8,862.2 1337.2,858.7 1334.6,863.9 1321.6,862.2 1318.2,860.5 1314.7,869.1 1307.8,871.7 1301.7,870.8 1297.4,874.3 1292.2,878.6 1281.8,880.4 1274.9,883.8 1266.2,884.7 1259.3,886.4 1253.2,888.2 1248.9,889.9 1238.5,891.6 1228.1,893.4 1217.7,895.1 1215.1,898.6 1209.1,898.6 1205.6,888.2 1201.3,883 1198.7,862.2 1194.4,860.5 1191.4,850.1 1190.4,820.6 1187.4,831 1184,846.6 1181.4,898.6 1179.6,913.3 1175.3,913.3 1172.4,903.7 1171,850.1 1168.4,867.4 1164,874.3 1158,880.4 1151.9,888.2 1145,895.1" fill="#0072BD"/>
<polygon points="1145,889.2 1151.9,882.3 1158,874.5 1164,868.4 1168.4,861.5 1171,844.2 1172.4,897.9 1175.3,907.4 1179.6,907.4 1181.4,892.7 1184,840.7 1187.4,825.1 1190.4,814.7 1191.4,844.2 1194.4,854.6 1198.7,856.3 1201.3,877.1 1205.6,882.3 1209.1,892.7 1215.1,892.7 1217.7,889.2 1228.1,887.5 1238.5,885.7 1248.9,884 1253.2,882.3 1259.3,880.5 1266.2,878.8 1274.9,877.9 1281.8,874.5 1292.2,872.8 1297.4,868.4 1301.7,865 1307.8,865.8 1314.7,863.2 1318.2,854.6 1321.6,856.3 1334.6,858 1337.2,852.8 1339.8,856.3 1344.1,856.3 1348.5,847.6 1352.8,839 1355.4,846.8 1359.7,845.9 1364.9,842.5 1367.5,837.3 1373.6,839.9 1375.3,845 1379.6,845 1381.4,840.7 1384,841.6 1390.9,840.7 1395.2,837.3 1399.5,826.9 1401.3,818.2 1408.2,817.3 1410.8,802.6 1416,801.8 1418.6,814.7 1423.8,820.8 1430.7,819.1 1433.3,814.7 1434.5,787 1439.4,785.3 1441.1,780.1 1441.5,762.8 1465,762.8 1465,768.7 1441.5,768.7 1441.1,786 1439.4,791.2 1434.5,792.9 1433.3,820.6 1430.7,825 1423.8,826.7 1418.6,820.6 1416,807.6 1410.8,808.5 1408.2,823.2 1401.3,824.1 1399.5,832.8 1395.2,843.1 1390.9,846.6 1384,847.5 1381.4,846.6 1379.6,850.9 1375.3,850.9 1373.6,845.7 1367.5,843.1 1364.9,848.3 1359.7,851.8 1355.4,852.7 1352.8,844.9 1348.5,853.5 1344.1,862.2 1339.8,862.2 1337.2,858.7 1334.6,863.9 1321.6,862.2 1318.2,860.5 1314.7,869.1 1307.8,871.7 1301.7,870.8 1297.4,874.3 1292.2,878.6 1281.8,880.4 1274.9,883.8 1266.2,884.7 1259.3,886.4 1253.2,888.2 1248.9,889.9 1238.5,891.6 1228.1,893.4 1217.7,895.1 1215.1,898.6 1209.1,898.6 1205.6,888.2 1201.3,883 1198.7,862.2 1194.4,860.5 1191.4,850.1 1190.4,820.6 1187.4,831 1184,846.6 1181.4,898.6 1179.6,913.3 1175.3,913.3 1172.4,903.7 1171,850.1 1168.4,867.4 1164,874.3 1158,880.4 1151.9,888.2 1145,895.1" fill="#0072BD"/>
</g>
<g clip-path="url(#c21)">
<polyline points="1669.3,140.4 1673.7,139.4 1675.4,152 1678.9,163.3 1681.5,143.4 1686.3,197.9 1690.1,143.4 1693.6,167.6 1697.9,141.6 1701.4,139.4 1707.9,205.7 1712.6,143.4 1716.9,167.6 1721.3,141.6 1724.7,139.4 1732.5,152.9 1736.9,140.4 1742.1,156.4 1747.3,139.4 1750.7,141.1 1758.5,165.9 1765.4,141.1 1768.9,139.4 1774.1,148.6 1778.4,139.4 1785,138.5" fill="none" stroke="#FCAF0A" stroke-width="7.3" stroke-linejoin="round"/>
<polygon points="1633.8,189.3 1642.5,189.3 1641.6,231.7 1636.4,231.7" fill="#FCAF0A"/>
<polygon points="1643.4,155.5 1648.9,155.5 1648.5,163.3 1644.2,163.3" fill="#FCAF0A"/>
<polygon points="1649.9,185.8 1656.3,185.8 1655.5,222.2 1651.1,222.2" fill="#FCAF0A"/>
<polygon points="1657.6,206.6 1671.9,206.6 1671.1,255.1 1665.9,255.1 1665,280.2 1660.7,280.2" fill="#FCAF0A"/>
<polygon points="1609.6,276.7 1614.3,276.7 1613.6,329.5 1610.1,329.5" fill="#FCAF0A"/>
<polygon points="1617.4,230.8 1620,234.3 1622.9,288 1620.8,288" fill="#FCAF0A"/>
<polygon points="1603.2,310.5 1609.6,310.5 1609.1,342 1603.5,342" fill="#FCAF0A"/>
<polygon points="1621.7,310.5 1632.6,310.5 1631.6,342 1622.6,342" fill="#FCAF0A"/>
<polygon points="1568.2,206.6 1570.6,206.6 1570.6,232.6 1568.2,232.6" fill="#FCAF0A"/>
<polygon points="1541.2,258.5 1543.3,258.5 1543.3,310.5 1541.2,310.5" fill="#FCAF0A"/>
<polygon points="1570.6,301.8 1572.7,301.8 1572.7,342 1570.6,342" fill="#FCAF0A"/>
<polygon points="1597.5,322.6 1599.2,322.6 1599.2,342 1597.5,342" fill="#FCAF0A"/>
<polygon points="1465,142.5 1467.1,142.5 1467.3,253.3 1469.2,253.3 1469.3,189.3 1472.8,189.3 1473,150.3 1477.1,150.3 1477.5,140.8 1482.3,140.8 1482.7,249.9 1486.6,249.9 1488.4,249 1488.5,184.1 1492.7,184.1 1492.9,227.4 1494.3,227.4 1494.4,191 1497.9,191 1498.1,144.6 1503.1,144.6 1504,159.8 1506.6,175.4 1507.1,239.5 1510.4,239.5 1510.9,161.2 1515.2,161.2 1515.6,223.9 1516.9,223.9 1520.4,184.1 1523,166.8 1525.6,165.9 1526,145.1 1530.8,145.1 1531.7,141.6 1537.7,139 1544.7,138.2 1547.3,163.3 1550.7,166.8 1550.9,180.6 1555,180.6 1555.2,156.4 1559.4,156.4 1559.5,171.9 1563.7,171.9 1563.9,138.2 1574.1,138.2 1575.8,194.5 1576.7,241.2 1578.4,241.2 1579.3,217 1581,217 1581.2,139.4 1585.3,139.4 1585.5,204.8 1588.3,204.8 1588.5,139 1593.1,139 1593.3,159.8 1596.3,159.8 1596.4,137.3 1620,137.3 1620.3,140.8 1624,140.8 1626.9,165.9 1628.6,165.9 1630.4,137.3 1636.4,137.3 1637.3,151.2 1638.7,151.2 1639,137.3 1646,137.3 1646.8,157.2 1648,157.2 1648.5,137.3 1653.7,137.3 1654.3,153.8 1655.1,153.8 1655.5,137.3 1660.7,137.3 1661.4,159.8 1662.4,159.8 1663.3,141.6 1666.7,141.6 1667.6,146 1669,146 1669.3,137.3 1672.8,137.3 1672.8,342 1465,342" fill="#0072BD"/>
<polygon points="1599.2,203.1 1601.8,203.1 1603.2,293.2 1602.7,342 1598.7,342 1598.3,293.2" fill="#fff"/>
<polygon points="1568.9,196.2 1571.5,196.2 1572.4,342 1568.2,342" fill="#fff"/>
<polygon points="1568.2,206.6 1570.6,206.6 1570.6,232.6 1568.2,232.6" fill="#FCAF0A"/>
<polygon points="1570.6,301.8 1572.7,301.8 1572.7,342 1570.6,342" fill="#FCAF0A"/>
<polygon points="1541.2,310.5 1543.3,310.5 1543.3,342 1541.2,342" fill="#fff"/>
<polygon points="1541.2,258.5 1543.3,258.5 1543.3,310.5 1541.2,310.5" fill="#FCAF0A"/>
<polygon points="1523,301.8 1524.2,301.8 1524.2,342 1523,342" fill="#fff"/>
<polygon points="1476.8,319.1 1478.9,319.1 1478.9,342 1476.8,342" fill="#fff"/>
<polygon points="1610.1,275.8 1611.3,275.8 1613.9,241.2 1614.3,161.6 1617.4,161.6 1619.1,232.6 1621.7,284.5 1622.9,342 1610.1,342" fill="#fff"/>
<polygon points="1632.6,189.3 1633.8,196.2 1635.6,201.4 1641.6,201.4 1643,171.9 1644.2,156.4 1648.5,157.2 1649.9,180.6 1651.1,194.5 1655.5,194.5 1656.3,180.6 1657.6,189.3 1659.8,236.9 1665,236.9 1665.9,218.7 1671.1,218.7 1672.1,163.3 1672.1,147.7 1675.4,147.7 1675.4,342 1628.6,342 1631.2,284.5" fill="#fff"/>
<polygon points="1602.7,323.5 1610.1,323.5 1610.1,342 1602.7,342" fill="#fff"/>
<polygon points="1603.5,323.5 1609.1,323.5 1609.1,342 1603.5,342" fill="#FCAF0A"/>
<polygon points="1633.8,196.2 1635.6,201.4 1641.6,201.4 1641.6,231.7 1636.4,231.7" fill="#FCAF0A"/>
<polygon points="1651.1,194.5 1655.5,194.5 1655.5,222.2 1651.1,222.2" fill="#FCAF0A"/>
<polygon points="1659.8,236.9 1665,236.9 1665.9,218.7 1671.1,218.7 1671.1,255.1 1665.9,255.1 1665,280.2 1660.7,280.2" fill="#FCAF0A"/>
<polygon points="1609.6,276.7 1614.3,276.7 1613.6,329.5 1610.1,329.5" fill="#FCAF0A"/>
<polygon points="1617.7,230.8 1620,234.3 1622.9,288 1620.8,288" fill="#FCAF0A"/>
<polygon points="1628.6,336.5 1631.6,293.2 1632.6,293.2 1631.6,342 1622.6,342 1623.4,336.5" fill="#FCAF0A"/>
<polyline points="1669.3,139.9 1673.7,139 1675.4,151.2 1678.9,154.6 1681.5,142.5 1686.3,176.3 1690.1,142.5 1693.6,158.1 1697.9,140.8 1701.4,139 1707.9,182.3 1712.6,142.5 1716.9,158.1 1721.3,140.8 1724.7,139 1732.5,148.6 1736.9,139.9 1742.1,150.3 1747.3,139 1750.7,140.8 1758.5,156.4 1765.4,140.8 1768.9,139 1774.1,145.1 1778.4,139 1785,138.2" fill="none" stroke="#0072BD" stroke-width="7.3" stroke-linejoin="round"/>
</g>
<g clip-path="url(#c22)">
<polygon points="1602.7,342 1609.1,342 1608.4,381.5 1603.9,381.5" fill="#FCAF0A"/>
<polygon points="1623.4,342 1630.4,342 1629.5,387 1627.4,393.6 1623.4,393.6" fill="#FCAF0A"/>
<polygon points="1597.5,342 1599.4,342 1599.4,376.6 1597.5,376.6" fill="#FCAF0A"/>
<polygon points="1476.8,354.1 1478.9,354.1 1478.9,388.8 1476.8,388.8" fill="#FCAF0A"/>
<polygon points="1535.1,411.3 1540.8,411.3 1540.8,471 1535.1,471" fill="#FCAF0A"/>
<polygon points="1581,407.8 1584.1,407.8 1584.1,451.1 1581,451.1" fill="#FCAF0A"/>
<polygon points="1590.5,411.3 1596.6,411.3 1595.7,480.5 1592.3,480.5" fill="#FCAF0A"/>
<polygon points="1584.5,445.9 1589.3,445.9 1589.3,509.1 1584.5,509.1" fill="#FCAF0A"/>
<polygon points="1524.7,495.2 1527,495.2 1527,529.9 1524.7,529.9" fill="#FCAF0A"/>
<polygon points="1562.8,497.8 1566.3,497.8 1566.3,551.5 1562.8,551.5" fill="#FCAF0A"/>
<polygon points="1574.1,515.2 1580.2,515.2 1579.3,564 1575.8,564" fill="#FCAF0A"/>
<polygon points="1528.2,549.8 1534.3,549.8 1534.3,564 1528.2,564" fill="#FCAF0A"/>
<polygon points="1544.7,506.5 1547.3,506.5 1547.3,553.3 1544.7,553.3" fill="#FCAF0A"/>
<polygon points="1509.7,532.5 1513.5,532.5 1511.8,564 1508.3,564" fill="#FCAF0A"/>
<polygon points="1465,342 1476.3,342 1476.3,564 1465,564" fill="#0072BD"/>
<polygon points="1478.9,342 1523,342 1522.1,393.9 1520.4,520.4 1516.9,532.5 1513.5,532.5 1511.8,546.3 1509.2,564 1480.6,564 1479.7,463.2" fill="#0072BD"/>
<polygon points="1514.4,532.5 1518.7,532.5 1518.7,564 1514.4,564" fill="#0072BD"/>
<polygon points="1524.7,342 1540.8,342 1540.3,418.2 1535.1,419.1 1534.3,515.2 1533.9,555 1528.2,555 1524.7,492.6" fill="#0072BD"/>
<polygon points="1543.3,342 1567.5,342 1567.2,497.8 1562,504.8 1561.1,564 1548.1,564 1545.5,506.5 1544.3,432" fill="#0072BD"/>
<polygon points="1572.4,342 1596.9,342 1596.3,422 1592.3,422 1591.1,413 1590,422.5 1589.3,460.6 1584.5,460.6 1583.6,406.9 1581.4,407.8 1581,452.8 1580.2,520.4 1575,520.4 1573.2,463.2" fill="#0072BD"/>
</g>
<g clip-path="url(#c23)">
<polygon points="1465,615.9 1467.1,615.9 1467.1,643.7 1465,643.7" fill="#FCAF0A"/>
<polygon points="1467.6,633.3 1472.3,633.3 1472.3,661 1467.6,661" fill="#FCAF0A"/>
<polygon points="1472.8,581.3 1476.3,581.3 1476.3,618.5 1472.8,618.5" fill="#FCAF0A"/>
<polygon points="1480.9,598.6 1485.8,598.6 1485.8,616.8 1480.9,616.8" fill="#FCAF0A"/>
<polygon points="1486.6,633.3 1491.8,633.3 1491.8,648 1486.6,648" fill="#FCAF0A"/>
<polygon points="1492.7,583 1494.8,583 1494.8,598.6 1492.7,598.6" fill="#FCAF0A"/>
<polygon points="1501,579.6 1502.7,579.6 1502.7,598.6 1501,598.6" fill="#FCAF0A"/>
<polygon points="1495.3,650.6 1500.5,650.6 1500.5,688.3 1495.3,688.3" fill="#FCAF0A"/>
<polygon points="1503.4,615.9 1508.6,615.9 1508.6,634.6 1503.4,634.6" fill="#FCAF0A"/>
<polygon points="1513.8,564 1518.7,564 1518.7,584.4 1513.8,584.4" fill="#FCAF0A"/>
<polygon points="1527.7,564 1534.6,564 1533.9,590 1531.7,591.7 1528.2,590.8" fill="#FCAF0A"/>
<polygon points="1549,615.9 1553.7,615.9 1553.7,663.6 1549,663.6" fill="#FCAF0A"/>
<polygon points="1554.2,598.6 1561.1,598.6 1561.1,639.8 1554.2,639.8" fill="#FCAF0A"/>
<polygon points="1575.5,564 1579.6,564 1579.6,568.8 1575.5,568.8" fill="#FCAF0A"/>
<polygon points="1465,564 1476.3,564 1476.3,592.6 1472.8,592.6 1472.3,641.9 1467.6,641.9 1466.7,628.1 1465,628.1" fill="#0072BD"/>
<polygon points="1480.9,564 1509.2,564 1508.6,624.3 1504,624.3 1502.7,598.6 1501,598.6 1500.5,667 1495.3,667 1494.8,598.6 1492.7,598.6 1491.8,640.2 1486.6,640.2 1485.8,603 1480.9,603" fill="#0072BD"/>
<polygon points="1513.8,564 1518.7,564 1518.7,575.3 1513.8,575.3" fill="#0072BD"/>
<polygon points="1548.1,564 1561.6,564 1561.1,604.7 1554.2,604.7 1553.7,630.7 1549,630.7" fill="#0072BD"/>
</g>
</g>
<rect x="187.0" y="78.3" width="1596.5" height="1029.2" fill="none" stroke="#262626" stroke-width="3.6"/>
<line x1="453.1" y1="78.3" x2="453.1" y2="96.1" stroke="#262626" stroke-width="3.6"/>
<line x1="453.1" y1="1107.5" x2="453.1" y2="1089.7" stroke="#262626" stroke-width="3.6"/>
<line x1="719.2" y1="78.3" x2="719.2" y2="96.1" stroke="#262626" stroke-width="3.6"/>
<line x1="719.2" y1="1107.5" x2="719.2" y2="1089.7" stroke="#262626" stroke-width="3.6"/>
<line x1="985.2" y1="78.3" x2="985.2" y2="96.1" stroke="#262626" stroke-width="3.6"/>
<line x1="985.2" y1="1107.5" x2="985.2" y2="1089.7" stroke="#262626" stroke-width="3.6"/>
<line x1="1251.3" y1="78.3" x2="1251.3" y2="96.1" stroke="#262626" stroke-width="3.6"/>
<line x1="1251.3" y1="1107.5" x2="1251.3" y2="1089.7" stroke="#262626" stroke-width="3.6"/>
<line x1="1517.4" y1="78.3" x2="1517.4" y2="96.1" stroke="#262626" stroke-width="3.6"/>
<line x1="1517.4" y1="1107.5" x2="1517.4" y2="1089.7" stroke="#262626" stroke-width="3.6"/>
<line x1="187.0" y1="936.0" x2="204.8" y2="936.0" stroke="#262626" stroke-width="3.6"/>
<line x1="1783.5" y1="936.0" x2="1765.7" y2="936.0" stroke="#262626" stroke-width="3.6"/>
<line x1="187.0" y1="764.4" x2="204.8" y2="764.4" stroke="#262626" stroke-width="3.6"/>
<line x1="1783.5" y1="764.4" x2="1765.7" y2="764.4" stroke="#262626" stroke-width="3.6"/>
<line x1="187.0" y1="592.9" x2="204.8" y2="592.9" stroke="#262626" stroke-width="3.6"/>
<line x1="1783.5" y1="592.9" x2="1765.7" y2="592.9" stroke="#262626" stroke-width="3.6"/>
<line x1="187.0" y1="421.4" x2="204.8" y2="421.4" stroke="#262626" stroke-width="3.6"/>
<line x1="1783.5" y1="421.4" x2="1765.7" y2="421.4" stroke="#262626" stroke-width="3.6"/>
<line x1="187.0" y1="249.8" x2="204.8" y2="249.8" stroke="#262626" stroke-width="3.6"/>
<line x1="1783.5" y1="249.8" x2="1765.7" y2="249.8" stroke="#262626" stroke-width="3.6"/>
<text x="187.3" y="1177" font-size="56" text-anchor="middle" fill="#262626">300</text>
<text x="453.4" y="1177" font-size="56" text-anchor="middle" fill="#262626">500</text>
<text x="719.5" y="1177" font-size="56" text-anchor="middle" fill="#262626">700</text>
<text x="985.5" y="1177" font-size="56" text-anchor="middle" fill="#262626">900</text>
<text x="1251.6" y="1177" font-size="56" text-anchor="middle" fill="#262626">1100</text>
<text x="1517.7" y="1177" font-size="56" text-anchor="middle" fill="#262626">1300</text>
<text x="1783.8" y="1177" font-size="56" text-anchor="middle" fill="#262626">1500</text>
<text x="168" y="1126.7" font-size="56" text-anchor="end" fill="#262626">210</text>
<text x="168" y="955.2" font-size="56" text-anchor="end" fill="#262626">220</text>
<text x="168" y="783.6" font-size="56" text-anchor="end" fill="#262626">230</text>
<text x="168" y="612.1" font-size="56" text-anchor="end" fill="#262626">240</text>
<text x="168" y="440.6" font-size="56" text-anchor="end" fill="#262626">250</text>
<text x="168" y="269.0" font-size="56" text-anchor="end" fill="#262626">260</text>
<text x="168" y="97.5" font-size="56" text-anchor="end" fill="#262626">270</text>
<text x="745" y="1258" font-size="54.5" fill="#262626" letter-spacing="0.2">Wavenumber (cm<tspan font-size="43" dy="-26">–1</tspan><tspan dy="26">)</tspan></text>
<text transform="translate(61,928.5) rotate(-90)" font-size="54.5" fill="#262626" letter-spacing="0.5">Brightness Temperature (K)</text>
<line x1="1139.3" y1="40.6" x2="1275.5" y2="40.6" stroke="#FCAF0A" stroke-width="5.2"/>
<text x="1286.5" y="57" font-size="45.5" fill="#000">low SH</text>
<line x1="1452.7" y1="40.6" x2="1589.5" y2="40.6" stroke="#0072BD" stroke-width="5.2"/>
<text x="1601.5" y="57" font-size="45.3" fill="#000">high SH</text>
</svg></body></html>
